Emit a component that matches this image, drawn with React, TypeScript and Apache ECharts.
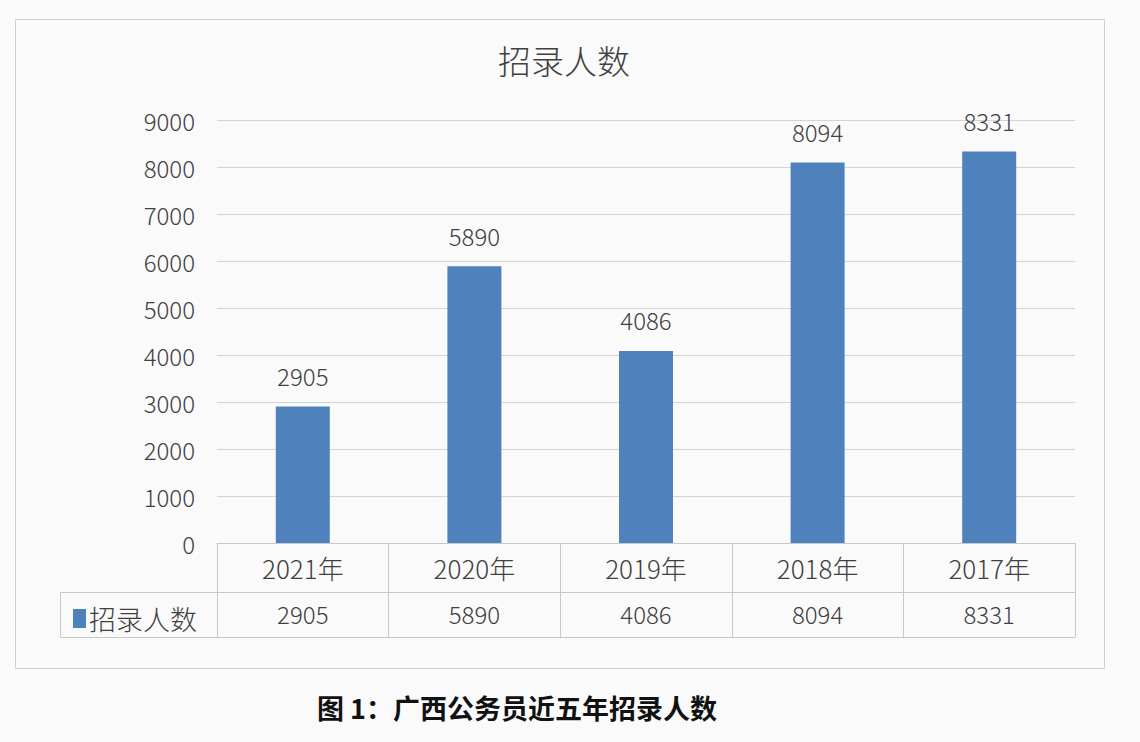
import React, { useEffect, useRef } from "react";
import * as echarts from "echarts";

const categories = ["2021年", "2020年", "2019年", "2018年", "2017年"];
const values = [2905, 5890, 4086, 8094, 8331];
const seriesName = "招录人数";
const chartTitle = "招录人数";
const caption = "图 1：广西公务员近五年招录人数";

const FONT = "'Noto Sans CJK SC', 'Noto Sans', sans-serif";
const TEXT = "#404040";
const LINE = "#C8C8C8";
const W = 300;

export default function App() {
  const ref = useRef<HTMLDivElement>(null);
  useEffect(() => {
    document.body.style.margin = "0";
    document.body.style.background = "#fafafa";
    const chart = echarts.init(ref.current!, null, { renderer: "svg" });
    chart.setOption({
      animation: false,
      backgroundColor: "transparent",
      textStyle: { fontFamily: FONT },
      title: [
        {
          text: chartTitle,
          left: 559,
          top: 38,
          textAlign: "center",
          textStyle: { fontSize: 33, fontWeight: W, color: TEXT, fontFamily: FONT },
        },
        {
          text: caption,
          left: 512,
          top: 689,
          textAlign: "center",
          textStyle: { fontSize: 27, fontWeight: "bold", color: "#111", fontFamily: FONT },
        },
      ],
      legend: {
        data: [seriesName],
        left: 68,
        top: 600,
        icon: "rect",
        itemWidth: 13,
        itemHeight: 19,
        itemGap: 4,
        textStyle: { fontSize: 27, fontWeight: W, color: TEXT, fontFamily: FONT, padding: [0, 0, 0, -2] },
      },
      grid: { left: 217, right: 65, top: 120, bottom: 199, containLabel: false },
      xAxis: [
        {
          type: "category",
          data: categories,
          position: "bottom",
          offset: 0,
          axisLine: { show: true, lineStyle: { color: LINE } },
          axisTick: { show: true, length: 94, lineStyle: { color: LINE } },
          axisLabel: { fontSize: 26, fontWeight: W, color: TEXT, margin: 11, fontFamily: FONT },
        },
        {
          type: "category",
          data: categories,
          position: "bottom",
          offset: 49,
          axisLine: { show: true, lineStyle: { color: LINE } },
          axisTick: { show: false },
          axisLabel: {
            fontSize: 24,
            fontWeight: W,
            color: TEXT,
            margin: 9,
            fontFamily: FONT,
            formatter: (_v: string, i: number) => String(values[i]),
          },
        },
        {
          type: "category",
          data: categories,
          position: "bottom",
          offset: 94,
          axisLine: { show: true, lineStyle: { color: LINE } },
          axisTick: { show: false },
          axisLabel: { show: false },
        },
      ],
      yAxis: {
        type: "value",
        min: 0,
        max: 9000,
        interval: 1000,
        axisLine: { show: false },
        axisTick: { show: false },
        axisLabel: {
          fontSize: 24,
          fontWeight: W,
          color: TEXT,
          margin: 22,
          fontFamily: FONT,
          formatter: (v: number) => String(v),
        },
        splitLine: { lineStyle: { color: "#D4D4D4" } },
      },
      series: [
        {
          name: seriesName,
          type: "bar",
          data: values,
          barWidth: 54,
          itemStyle: { color: "#4F81BD" },
          label: {
            show: true,
            position: "top",
            distance: 19,
            fontSize: 24,
            fontWeight: W,
            color: TEXT,
            fontFamily: FONT,
          },
        },
      ],
      graphic: [
        {
          type: "rect",
          shape: { x: 15.5, y: 19.5, width: 1089, height: 649 },
          style: { fill: "none", stroke: "#D0D0D0", lineWidth: 1 },
          silent: true,
          z: -1,
        },
        {
          type: "polyline",
          shape: { points: [[217, 592.5], [60.5, 592.5], [60.5, 637.5], [217, 637.5]] },
          style: { fill: "none", stroke: LINE, lineWidth: 1 },
          silent: true,
        },
      ],
    });
    return () => chart.dispose();
  }, []);
  return <div ref={ref} style={{ width: 1140, height: 742 }} />;
}
